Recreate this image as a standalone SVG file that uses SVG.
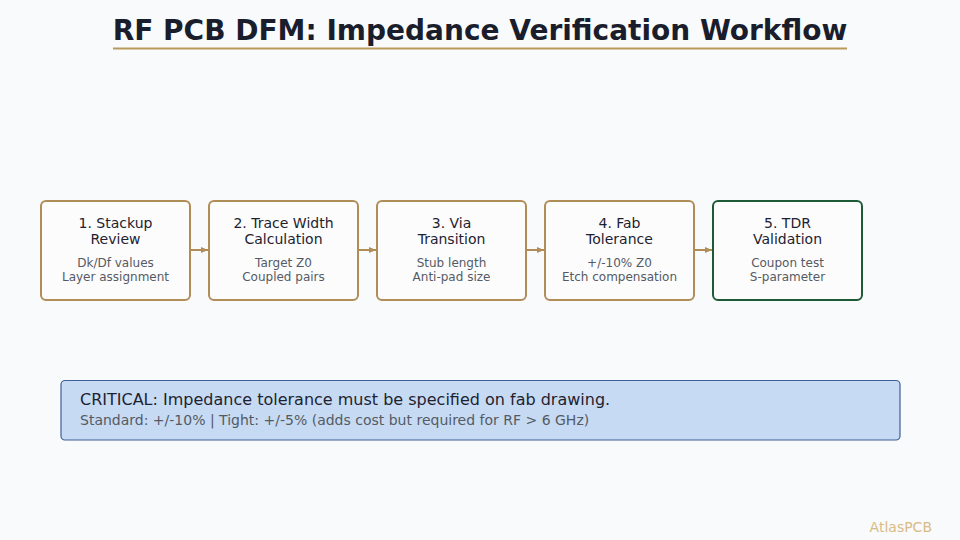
<svg xmlns="http://www.w3.org/2000/svg" width="960" height="540" viewBox="0 0 960 540">
<defs>
<marker id="ah" markerWidth="8" markerHeight="8" refX="7" refY="4" orient="auto" markerUnits="userSpaceOnUse"><path d="M0,1 L7,4 L0,7 Z" fill="#b08d57"/></marker>
<style>
.box{fill:#fcfcfd;stroke:#b08d57;stroke-width:2}
.box.g{stroke:#1f5a37}
.t{font-family:"DejaVu Sans",sans-serif;font-size:14px;fill:#1e2230;text-anchor:middle}
.s{font-family:"DejaVu Sans",sans-serif;font-size:12px;fill:#555a63;text-anchor:middle}
.c{stroke:#b08d57;stroke-width:2;fill:none}
</style>
</defs>
<rect width="960" height="540" fill="#f8fafc"/>
<text x="480" y="40" font-family="DejaVu Sans,sans-serif" font-size="28" font-weight="bold" fill="#1a1d2b" text-anchor="middle">RF PCB DFM: Impedance Verification Workflow</text>
<line x1="113" y1="48.5" x2="847" y2="48.5" stroke="#b8995a" stroke-width="2"/>
<g id="connectors">
<line class="c" x1="191" y1="250" x2="208" y2="250" marker-end="url(#ah)"/>
<line class="c" x1="359" y1="250" x2="376" y2="250" marker-end="url(#ah)"/>
<line class="c" x1="527" y1="250" x2="544" y2="250" marker-end="url(#ah)"/>
<line class="c" x1="695" y1="250" x2="712" y2="250" marker-end="url(#ah)"/>
</g>
<g id="n1"><rect class="box" x="41" y="201" width="149" height="99" rx="5"/><text class="t" x="115.5" y="228">1. Stackup</text><text class="t" x="115.5" y="244">Review</text><text class="s" x="115.5" y="267">Dk/Df values</text><text class="s" x="115.5" y="281">Layer assignment</text></g>
<g id="n2"><rect class="box" x="209" y="201" width="149" height="99" rx="5"/><text class="t" x="283.5" y="228">2. Trace Width</text><text class="t" x="283.5" y="244">Calculation</text><text class="s" x="283.5" y="267">Target Z0</text><text class="s" x="283.5" y="281">Coupled pairs</text></g>
<g id="n3"><rect class="box" x="377" y="201" width="149" height="99" rx="5"/><text class="t" x="451.5" y="228">3. Via</text><text class="t" x="451.5" y="244">Transition</text><text class="s" x="451.5" y="267">Stub length</text><text class="s" x="451.5" y="281">Anti-pad size</text></g>
<g id="n4"><rect class="box" x="545" y="201" width="149" height="99" rx="5"/><text class="t" x="619.5" y="228">4. Fab</text><text class="t" x="619.5" y="244">Tolerance</text><text class="s" x="619.5" y="267">+/-10% Z0</text><text class="s" x="619.5" y="281">Etch compensation</text></g>
<g id="n5"><rect class="box g" x="713" y="201" width="149" height="99" rx="5"/><text class="t" x="787.5" y="228">5. TDR</text><text class="t" x="787.5" y="244">Validation</text><text class="s" x="787.5" y="267">Coupon test</text><text class="s" x="787.5" y="281">S-parameter</text></g>
<g id="callout"><rect x="61" y="380.5" width="839" height="59.5" rx="4" fill="#c6dbf3" stroke="#3d5f98" stroke-width="1.2"/>
<text x="80" y="405" font-family="DejaVu Sans,sans-serif" font-size="16" fill="#1e2230">CRITICAL: Impedance tolerance must be specified on fab drawing.</text>
<text x="80" y="425" font-family="DejaVu Sans,sans-serif" font-size="14" fill="#555a63">Standard: +/-10% | Tight: +/-5% (adds cost but required for RF &gt; 6 GHz)</text></g>
<text x="932" y="532" font-family="DejaVu Sans,sans-serif" font-size="14" fill="#d9bb86" text-anchor="end">AtlasPCB</text>
</svg>
